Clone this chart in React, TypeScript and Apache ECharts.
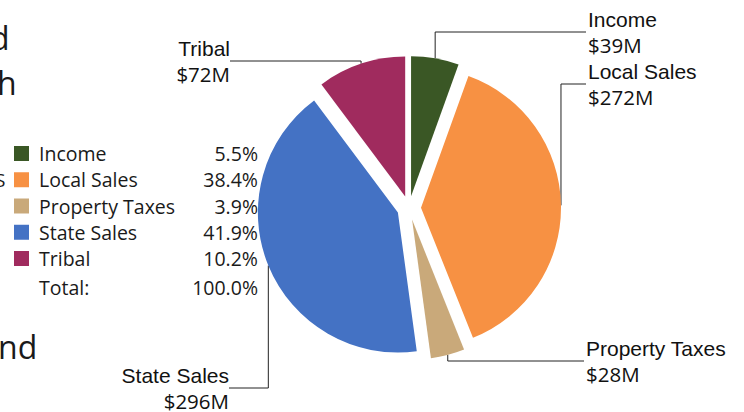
import React, { useEffect, useRef } from 'react';
import * as echarts from 'echarts';

const categories = ['Income', 'Local Sales', 'Property Taxes', 'State Sales', 'Tribal'];
const shares = [5.5, 38.4, 3.9, 41.9, 10.2];
const amounts = [39, 272, 28, 296, 72];
const totalText = 'Total:';
const totalShare = '100.0%';

const colors = ['#3A5725', '#F79143', '#C9A97A', '#4472C4', '#A02B5E'];
const labelPlacement = [
  { side: 'right', x: 588, y: 32 },
  { side: 'right', x: 588, y: 84 },
  { side: 'right', x: 586, y: 361 },
  { side: 'left', x: 229, y: 388 },
  { side: 'left', x: 230, y: 61 },
];
const CX = 409;
const CY = 208;
const R = 140;
const OFFSET = 12;
const UI_FONT = 'Open Sans';

export default function App() {
  const ref = useRef<HTMLDivElement>(null);
  useEffect(() => {
    document.body.style.margin = '0';
    if (!ref.current) return;
    const chart = echarts.init(ref.current, undefined, { renderer: 'svg' });
    const total = shares.reduce((a, b) => a + b, 0);
    const midAngle = (i: number) => {
      let cum = 0;
      for (let k = 0; k < i; k++) cum += shares[k];
      return ((90 - (360 * (cum + shares[i] / 2)) / total) * Math.PI) / 180;
    };
    // one pie series per slice, each shifted outward ("exploded") along its mid angle
    const series = categories.map((_, i) => {
      const mid = midAngle(i);
      return {
        type: 'pie',
        center: [CX + OFFSET * Math.cos(mid), CY - OFFSET * Math.sin(mid)],
        radius: R,
        startAngle: 90,
        clockwise: true,
        silent: true,
        emphasis: { disabled: true },
        data: categories.map((name, k) => ({
          name,
          value: shares[k],
          itemStyle: { color: k === i ? colors[k] : 'transparent' },
          label: { show: k === i },
          labelLine: { show: k === i },
        })),
        label: {
          position: 'outside',
          formatter: (p: any) => `{n|${p.name}}\n{v|$${amounts[p.dataIndex]}M}`,
          rich: {
            n: { fontFamily: 'Liberation Sans', fontSize: 21, color: '#111', lineHeight: 25 },
            v: { fontFamily: UI_FONT, fontSize: 20.5, color: '#111', lineHeight: 25 },
          },
        },
        labelLine: { lineStyle: { color: '#222', width: 1 } },
        labelLayout: (params: any) => {
          const d = params.dataIndex;
          const m = midAngle(d);
          const ax = CX + (R + OFFSET) * Math.cos(m);
          const ay = CY - (R + OFFSET) * Math.sin(m);
          const p = labelPlacement[d];
          const ex = p.side === 'right' ? p.x - 2 : p.x;
          return {
            x: p.x,
            y: p.y,
            align: p.side === 'right' ? 'left' : 'right',
            verticalAlign: 'middle',
            labelLinePoints: [[ax, ay], [ax, p.y], [ex, p.y]],
          };
        },
      };
    });
    const option: any = {
      animation: false,
      legend: {
        orient: 'vertical',
        left: 9,
        top: 138.5,
        icon: 'rect',
        itemWidth: 15,
        itemHeight: 15,
        itemGap: 6.25,
        selectedMode: false,
        data: categories.map((name, i) => ({ name, itemStyle: { color: colors[i] } })),
        formatter: (name: string) => {
          const i = categories.indexOf(name);
          return `{a|${name}}{b|${shares[i].toFixed(1)}%}`;
        },
        textStyle: {
          rich: {
            a: { fontFamily: UI_FONT, fontSize: 19.5, color: '#1a1a1a', width: 150, padding: [0, 0, 0, 5], lineHeight: 22 },
            b: { fontFamily: UI_FONT, fontSize: 19.5, color: '#1a1a1a', width: 69, align: 'right', lineHeight: 22 },
          },
        },
      },
      graphic: [
        { type: 'text', x: 39, y: 287, style: { text: totalText, font: `19.5px "${UI_FONT}"`, fill: '#1a1a1a', textVerticalAlign: 'middle' } },
        { type: 'text', x: 258, y: 287, style: { text: totalShare, font: `19.5px "${UI_FONT}"`, fill: '#1a1a1a', textAlign: 'right', textVerticalAlign: 'middle' } },
        { type: 'text', x: -10, y: 53, style: { text: 'd', font: `32px "${UI_FONT}"`, fill: '#1a1a1a', textVerticalAlign: 'bottom' } },
        { type: 'text', x: -3, y: 98, style: { text: 'h', font: `32px "${UI_FONT}"`, fill: '#1a1a1a', textVerticalAlign: 'bottom' } },
        { type: 'text', x: -5, y: 189, style: { text: 'S', font: `19px "${UI_FONT}"`, fill: '#1a1a1a', textVerticalAlign: 'bottom' } },
        { type: 'text', x: -2, y: 362, style: { text: 'nd', font: `32px "${UI_FONT}"`, fill: '#1a1a1a', textVerticalAlign: 'bottom' } },
      ],
      series,
    };
    chart.setOption(option);
    return () => chart.dispose();
  }, []);
  return <div ref={ref} style={{ width: 744, height: 412 }} />;
}
